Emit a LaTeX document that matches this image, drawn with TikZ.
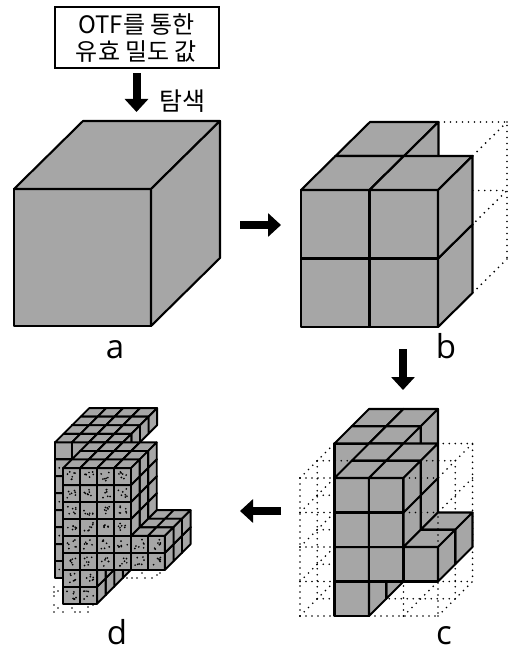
\documentclass[tikz,border=0pt]{standalone}
\usepackage{fontspec}
\usepackage{xcolor}
\usepackage{tikz}
\usetikzlibrary{arrows.meta, calc, positioning}
\setmainfont{Noto Sans CJK KR}
\newfontfamily\panelfont{Open Sans}
\definecolor{voxfill}{HTML}{A6A6A6}
\newcommand{\voxel}[3]{%
  \draw[vox] (#1,#2,#3) -- ++(1,0,0) -- ++(0,1,0) -- ++(-1,0,0) -- cycle;
  \draw[vox] (#1,#2+1,#3) -- ++(1,0,0) -- ++(0,0,1) -- ++(-1,0,0) -- cycle;
  \draw[vox] (#1+1,#2,#3) -- ++(0,1,0) -- ++(0,0,1) -- ++(0,-1,0) -- cycle;
}
\begin{document}
\begin{tikzpicture}[
  x=1pt, y=-1pt,
  vox/.style     = {draw=black, fill=voxfill, line width=2.1pt, line join=round},
  voxgrid/.style n args={3}{x={(#1pt,0pt)}, y={(0pt,#1pt)}, z={(#2pt,#3pt)}},
  wire/.style    = {draw=black, line width=1.9pt, line cap=round, dash pattern=on 0pt off 6pt},
  speck/.style   = {fill=black},
  bigarr/.style  = {-{Triangle[length=13pt,width=23pt]}, line width=8pt, color=black},
  otfbox/.style  = {draw=black, fill=white, line width=2pt, minimum width=164pt, minimum height=61pt, align=center, font=\fontsize{24}{27}\selectfont, inner sep=0pt},
  panel/.style   = {font=\panelfont\fontsize{33}{33}\selectfont, inner sep=0pt},
]
\useasboundingbox (0,0) rectangle (509,650);
%%--- Search input ---
\node[otfbox] (otf) at (136.5,38) {OTF를 통한\\유효 밀도 값};
\coordinate (searchtip) at (136.5,112);
\draw[bigarr, shorten <=4pt] (otf.south) -- (searchtip);
\node[font=\fontsize{25}{25}\selectfont, inner sep=0pt] (search) at (182,101) {탐색};
%%--- (a) Whole cube ---
\begin{scope}[shift={(14,326)}, voxgrid={137}{69}{68}]
  \voxel{0}{0}{0}
\end{scope}
\node[panel] (la) at (115,350) {a};
%%--- (b) First split ---
\begin{scope}[shift={(301,327)}, voxgrid={68.5}{34.5}{34}]
  \draw[wire] (1,2,2) -- (2,2,2) -- (2,0,2);
  \draw[wire] (2,2,2) -- (2,2,1);
  \draw[wire] (1.5,1,2) -- (2,1,2) -- (2,1,1);
  \draw[wire] (2,0,2) -- (2,0,1);
  \voxel{0}{1}{1}
  \voxel{0}{0}{0} \voxel{0}{1}{0}
  \voxel{1}{0}{0} \voxel{1}{1}{0}
\end{scope}
\node[panel] (lb) at (446,346.5) {b};
%%--- (c) Second split ---
%% wire frame behind the cells, a few of its lines run over them
\begin{scope}[shift={(300,616)}, voxgrid={34.5}{17.25}{17.25}]
  \foreach \row in {0,...,4} {
    \draw[wire] (0,\row,0) -- (1,\row,0);
    \draw[wire] (0,\row,0) -- (0,\row,2);
  }
  \foreach \row in {0,...,3} \draw[wire] (0,\row,1) -- (0.55,\row,1);
  \draw[wire] (0,0,0) -- (0,4,0);
  \draw[wire] (0,0,1) -- (0,4,1);
  \draw[wire] (2,0,0) -- (4,0,0) -- (4,1,0);
  \draw[wire] (4,0,0) -- (4,0,2) -- (4,4,2) -- (3,4,2);
  \draw[wire] (4,4,2) -- (4,4,0);
  \draw[wire] (4,4,1) -- (4,0,1) -- (2,0,1);
  \draw[wire] (4,3,2) -- (4,3,0);
  \draw[wire] (3,0,0) -- (3,1,0);
  \draw[wire] (3,0,0) -- (3,0,2) -- (4,0,2);
  \foreach \depth in {3,2} \foreach \col in {0,1} {\voxel{\col}{3}{\depth}}
  \foreach \depth in {1,0} {
    \voxel{1}{0}{\depth}
    \foreach \col in {1,2} \foreach \row in {1,2,3} {\voxel{\col}{\row}{\depth}}
    \voxel{3}{1}{\depth}
  }
  \draw[wire] (0,4,1) -- (1,4,1);
  \draw[wire] (3,4,1) -- (4,4,1);
  \draw[wire] (3,4,0) -- (4,4,0);
  \draw[wire] (3,3,0) -- (4,3,0);
  \draw[wire] (4,2,0) -- (4,3,0);
\end{scope}
\node[panel] (lc) at (444,636) {c};
%%--- (d) Final split ---
\begin{scope}[shift={(29.3,603.7)}, voxgrid={16.95}{8.57}{8.57}, vox/.append style={line width=1.9pt}]
  \foreach \depth in {6,5,4} \foreach \col in {0,1,2,3} {\voxel{\col}{7}{\depth}}
  \foreach \row in {0,...,7} {\voxel{0}{\row}{3}}
  \foreach \col in {1,2,3} {\voxel{\col}{7}{3}}
  \foreach \col in {2,3} \foreach \row in {0,1} {\voxel{\col}{\row}{3}}
  \foreach \depth in {2,1,0} {
    \foreach \col in {2,3} \foreach \row in {0,1} {\voxel{\col}{\row}{\depth}}
    \foreach \col in {2,...,5} \foreach \row in {2,...,7} {\voxel{\col}{\row}{\depth}}
    \foreach \col in {6,7} \foreach \row in {2,3} {\voxel{\col}{\row}{\depth}}
  }
  %% specks on the front cells
  \pgfmathsetseed{4711}
  \foreach \col/\row in {2/0,3/0,2/1,3/1,2/2,3/2,4/2,5/2,6/2,7/2,2/3,3/3,4/3,5/3,6/3,7/3,
                         2/4,3/4,4/4,5/4,2/5,3/5,4/5,5/5,2/6,3/6,4/6,5/6,2/7,3/7,4/7,5/7} {
    \foreach \k in {1,...,7} {
      \pgfmathsetmacro{\sx}{\col+0.22+0.56*rnd}
      \pgfmathsetmacro{\sy}{\row+0.22+0.56*rnd}
      \fill[speck] (\sx,\sy,0) circle[radius=0.95pt];
    }
  }
  \foreach \row in {1,3,5,7} \fill[speck] (0.25,\row-0.5,3) circle[radius=0.95pt];
\end{scope}
%% leftover specks below the cells
\foreach \dx/\dy in {54/587,54/592,54/596,58/591,54/605,58/608,54/612,63/612,72/608,75/612,80/612,88/612,88/607,93/605,
                     127/578,132/578,137/578,142/573,145/578,152/578,157/575,160/573}
  \fill[speck] (\dx,\dy) circle[radius=0.95pt];
\node[panel] (ld) at (117,632.5) {d};
%%--- Step arrows ---
\coordinate (abtail) at (240,225);
\coordinate (abhead) at (281,225);
\coordinate (bctail) at (403,349);
\coordinate (bchead) at (403,390);
\coordinate (cdtail) at (281,511);
\coordinate (cdhead) at (240,511);
\draw[bigarr] (abtail) -- (abhead);
\draw[bigarr] (bctail) -- (bchead);
\draw[bigarr] (cdtail) -- (cdhead);
\end{tikzpicture}
\end{document}
